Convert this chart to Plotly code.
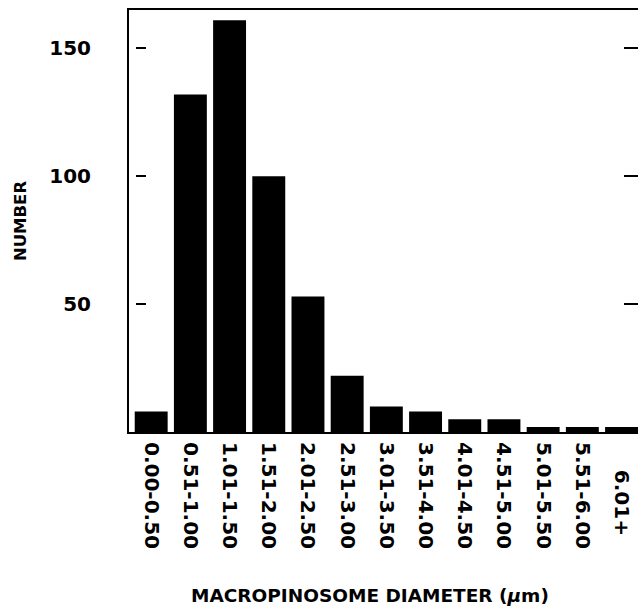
import plotly.graph_objects as go

categories = ["0.00-0.50", "0.51-1.00", "1.01-1.50", "1.51-2.00", "2.01-2.50",
              "2.51-3.00", "3.01-3.50", "3.51-4.00", "4.01-4.50", "4.51-5.00",
              "5.01-5.50", "5.51-6.00", "6.01+"]
counts = [8, 132, 161, 100, 53, 22, 10, 8, 5, 5, 2, 2, 2]
y_ticks = [50, 100, 150]

FONT = "DejaVu Sans"

# the short last label is visually centred like the longer ones
display_labels = [("\u00a0" * 4 + c) if len(c) < 7 else c for c in categories]
xpos = list(range(len(categories)))

fig = go.Figure()
fig.add_trace(go.Bar(x=xpos, y=counts, marker=dict(color="black", line=dict(width=0)),
                     showlegend=False))
# invisible carriers so the tick-only overlay axes get drawn
for ax in ("y2", "y3"):
    fig.add_trace(go.Scatter(x=xpos, y=counts, yaxis=ax, mode="none",
                             hoverinfo="skip", showlegend=False))

fig.update_layout(
    width=638, height=613,
    margin=dict(l=129, r=0, t=10, b=181),
    paper_bgcolor="white", plot_bgcolor="white",
    bargap=0.16,
    font=dict(family=FONT, color="black"),
    xaxis=dict(
        range=[-0.566, 12.42], tickmode="array", tickvals=xpos, ticktext=display_labels,
        tickangle=90, tickfont=dict(family=FONT, size=20, color="black", weight="bold"),
        showline=True, linewidth=2, linecolor="black", mirror=True,
        ticks="outside", ticklen=4, tickcolor="rgba(0,0,0,0)",
        showgrid=False, zeroline=False,
    ),
    yaxis=dict(
        range=[0, 165], tickmode="array", tickvals=y_ticks,
        tickfont=dict(family=FONT, size=20, color="black", weight="bold"),
        ticks="outside", ticklen=32, tickcolor="rgba(0,0,0,0)",
        showline=True, linewidth=2, linecolor="black",
        showgrid=False, zeroline=False,
        title=dict(text="NUMBER", font=dict(family=FONT, size=16.5, color="black",
                                             weight="bold"),
                   standoff=18),
    ),
    yaxis2=dict(
        range=[0, 165], overlaying="y", side="right", anchor="x",
        tickmode="array", tickvals=y_ticks, ticks="inside", ticklen=14, tickwidth=2,
        tickcolor="black", showticklabels=False, showline=False, showgrid=False,
        zeroline=False,
    ),
    yaxis3=dict(
        range=[0, 165], overlaying="y", side="left", anchor="free", position=6 / 509,
        tickmode="array", tickvals=y_ticks, ticks="inside", ticklen=10, tickwidth=2,
        tickcolor="black", showticklabels=False, showline=False, showgrid=False,
        zeroline=False,
    ),
    annotations=[dict(
        text="MACROPINOSOME DIAMETER (<i>\u03bc</i>m)",
        xref="paper", yref="paper", x=(370 - 129) / 509, y=-(595 - 432) / 422,
        xanchor="center", yanchor="middle", showarrow=False,
        font=dict(family=FONT, size=18.5, color="black", weight="bold"),
    )],
)

fig.write_html("out.html", config={"displayModeBar": False},
               post_script="document.body.style.margin='0';")
